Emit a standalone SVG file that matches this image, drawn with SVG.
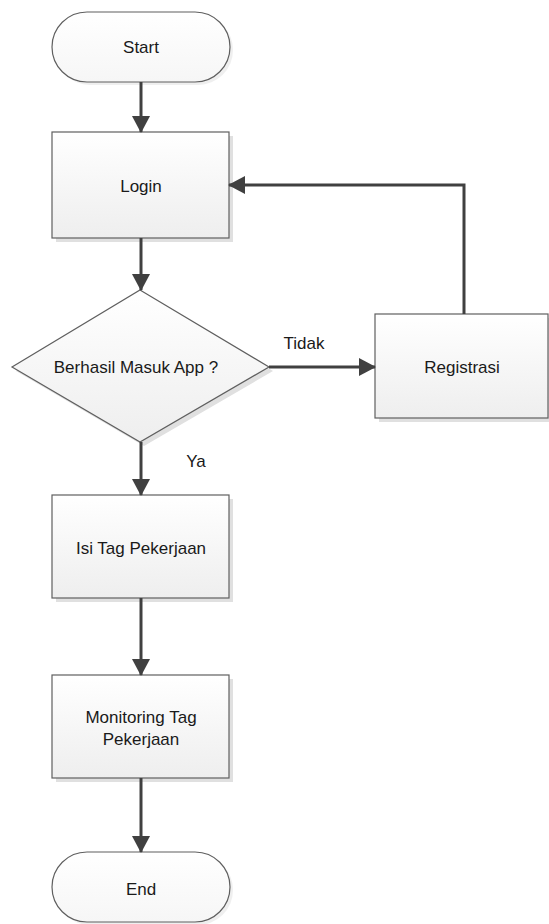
<svg xmlns="http://www.w3.org/2000/svg" width="549" height="924" viewBox="0 0 549 924">
<style>
.box{fill:url(#g);stroke:#5f5f5f;stroke-width:1.2}
.term{fill:url(#g2);stroke:#5f5f5f;stroke-width:1.2}
.sh{fill:#e0e0e0}
.t{font-family:"Liberation Sans",Arial,sans-serif;font-size:17px;fill:#1a1a1a;text-anchor:middle;dominant-baseline:central}
.c{fill:none;stroke:#404040;stroke-width:3;marker-end:url(#a)}
</style>
<defs>
<linearGradient id="g" x1="0" y1="0" x2="0" y2="1"><stop offset="0" stop-color="#ffffff"/><stop offset="1" stop-color="#eeeeee"/></linearGradient>
<linearGradient id="g2" x1="0" y1="0" x2="0" y2="1"><stop offset="0" stop-color="#ffffff"/><stop offset="1" stop-color="#f6f6f6"/></linearGradient>
<marker id="a" markerUnits="userSpaceOnUse" markerWidth="17" markerHeight="18" refX="16" refY="9" orient="auto"><path d="M0,0 L17,9 L0,18 z" fill="#404040"/></marker>
</defs>
<rect width="549" height="924" fill="#ffffff"/>
<g id="start">
<rect x="55" y="15" width="178" height="70" rx="35" class="sh" opacity="0.5"/>
<rect x="52" y="12" width="178" height="70" rx="35" class="term"/>
<text x="141" y="47" class="t">Start</text>
</g>
<g id="login">
<rect x="56" y="136" width="177" height="106" class="sh"/>
<rect x="52" y="132" width="177" height="106" class="box"/>
<text x="141" y="186" class="t">Login</text>
</g>
<g id="decision">
<polygon points="144,294 273,371 144,446 16,371" class="sh"/>
<polygon points="140,290 269,367 140,442 12,367" class="box"/>
<text x="136" y="367" class="t">Berhasil Masuk App ?</text>
</g>
<g id="registrasi">
<rect x="379" y="318" width="173" height="104" class="sh"/>
<rect x="375" y="314" width="173" height="104" class="box"/>
<text x="462" y="367" class="t">Registrasi</text>
</g>
<g id="isi">
<rect x="56" y="499" width="177" height="103" class="sh"/>
<rect x="52" y="495" width="177" height="103" class="box"/>
<text x="141" y="548" class="t">Isi Tag Pekerjaan</text>
</g>
<g id="monitoring">
<rect x="56" y="679" width="177" height="103" class="sh"/>
<rect x="52" y="675" width="177" height="103" class="box"/>
<text x="141" y="717" class="t">Monitoring Tag</text>
<text x="141" y="739" class="t">Pekerjaan</text>
</g>
<g id="end">
<rect x="55" y="855" width="178" height="70" rx="35" class="sh" opacity="0.5"/>
<rect x="52" y="852" width="178" height="70" rx="35" class="term"/>
<text x="141" y="889" class="t">End</text>
</g>
<g id="connectors">
<path d="M141,82 V132" class="c"/>
<path d="M141,238 V290" class="c"/>
<path d="M141,442 V495" class="c"/>
<path d="M141,598 V675" class="c"/>
<path d="M141,778 V852" class="c"/>
<path d="M269,367 H375" class="c"/>
<path d="M464,314 V185 H229" class="c"/>
<text x="304" y="343" class="t">Tidak</text>
<text x="196" y="461" class="t">Ya</text>
</g>
</svg>
